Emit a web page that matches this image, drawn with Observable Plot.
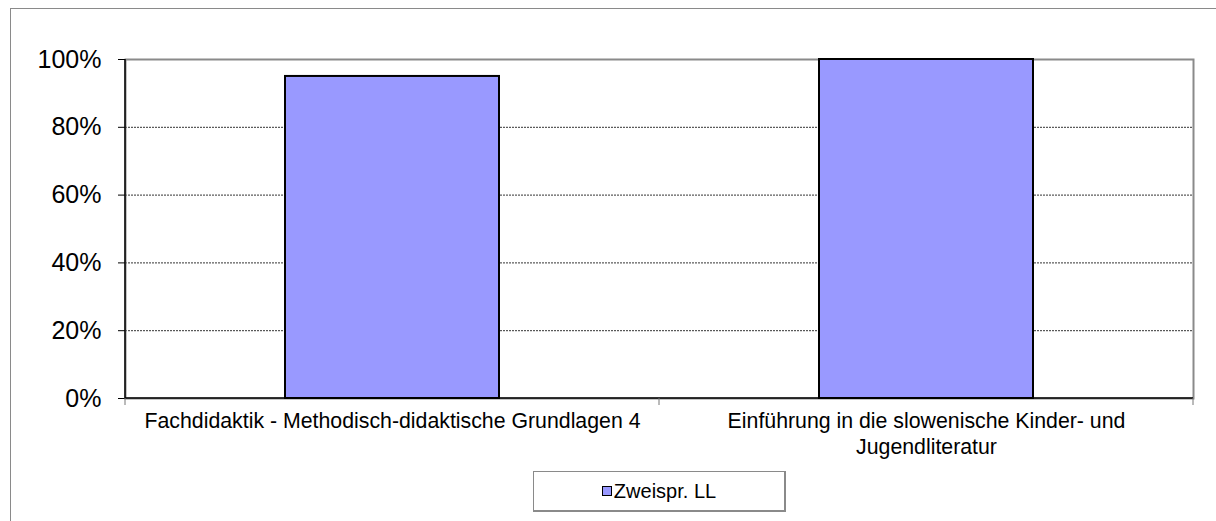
<!DOCTYPE html>
<html>
<head>
<meta charset="utf-8">
<script src="https://cdn.jsdelivr.net/npm/d3@7"></script>
<script src="https://cdn.jsdelivr.net/npm/@observablehq/plot@0.6"></script>
<style>
  html, body { margin: 0; padding: 0; background: #fff; overflow: hidden; }
  #wrap { position: relative; width: 1216px; height: 521px; font-family: "Liberation Sans", Arial, sans-serif; }
  #outer { position: absolute; left: 10px; top: 8px; width: 1400px; height: 700px; border: 1px solid #8a8a8a; box-sizing: border-box; }
  #chart { position: absolute; left: 0; top: 0; }
  #legend { position: absolute; left: 533px; top: 471px; width: 253px; height: 41px; box-sizing: border-box;
            border: 1px solid #8a8a8a; border-right-width: 2px; border-bottom-width: 2px; background: #fff;
            display: flex; align-items: center; justify-content: center; font-size: 20px; color: #000; }
  #legend .sw { display: inline-block; width: 8px; height: 8px; border: 1.5px solid #000; margin-right: 2px; }
</style>
</head>
<body>
<div id="wrap">
  <div id="outer"></div>
  <div id="chart"></div>
  <div id="legend"></div>
</div>
<script>
// ---- data ----
const categories = [
  "Fachdidaktik - Methodisch-didaktische Grundlagen 4",
  "Einführung in die slowenische Kinder- und Jugendliteratur"
];
const xTickLabels = [
  "Fachdidaktik - Methodisch-didaktische Grundlagen 4",
  "Einführung in die slowenische Kinder- und\nJugendliteratur"
];
const seriesName = "Zweispr. LL";
const seriesValues = [0.95, 1.0];
const yTicks = [0, 0.2, 0.4, 0.6, 0.8, 1.0];
const yTickLabels = ["0%", "20%", "40%", "60%", "80%", "100%"];
const barColor = "#9999FF";

const data = categories.map((c, i) => ({category: c, value: seriesValues[i], series: seriesName}));

const plot = Plot.plot({
  width: 1216,
  height: 470,
  marginLeft: 125,
  marginRight: 23,
  marginTop: 59,
  marginBottom: 72,
  style: {fontFamily: "'Liberation Sans', Arial, sans-serif", color: "#000", background: "transparent"},
  x: {domain: categories, paddingInner: 0.6, paddingOuter: 0.3, label: null},
  y: {domain: [0, 1], label: null},
  marks: [
    Plot.gridY(yTicks.slice(1, -1), {stroke: "#333", strokeOpacity: 1, strokeDasharray: "2,1", strokeWidth: 1}),
    Plot.frame({stroke: "#8a8a8a", strokeWidth: 2}),
    Plot.barY(data, {x: "category", y: "value", fill: barColor, stroke: "#000", strokeWidth: 2}),
    Plot.axisY({ticks: yTicks, tickFormat: d => yTickLabels[yTicks.indexOf(d)], tickSize: 7, tickPadding: 17, fontSize: 25, label: null}),
    Plot.axisX({tickSize: 0, tickPadding: 11, fontSize: 21.3, lineHeight: 1.22, label: null,
                tickFormat: d => xTickLabels[categories.indexOf(d)]})
  ]
});

// axis lines and category boundary ticks, derived from the plot's scales
const sx = plot.scale("x");
const sy = plot.scale("y");
const svg = d3.select(plot);
const x0 = sx.range[0], x1 = sx.range[1];
const yBottom = sy.apply(0), yTop = sy.apply(1);
const g = svg.append("g");
g.append("line").attr("x1", x0).attr("x2", x0).attr("y1", yTop).attr("y2", yBottom)
  .attr("stroke", "#000").attr("stroke-width", 1.5);
g.append("line").attr("x1", x0).attr("x2", x1).attr("y1", yBottom).attr("y2", yBottom)
  .attr("stroke", "#000").attr("stroke-width", 1.5);
for (let k = 0; k <= categories.length; k++) {
  const bx = x0 + k * sx.step;
  g.append("line").attr("x1", bx).attr("x2", bx).attr("y1", yBottom).attr("y2", yBottom + 7)
    .attr("stroke", "#777").attr("stroke-width", 1);
}

document.getElementById("chart").appendChild(plot);

// legend
const lg = document.getElementById("legend");
const sw = document.createElement("span");
sw.className = "sw";
sw.style.background = barColor;
lg.appendChild(sw);
lg.appendChild(document.createTextNode(seriesName));
</script>
</body>
</html>
